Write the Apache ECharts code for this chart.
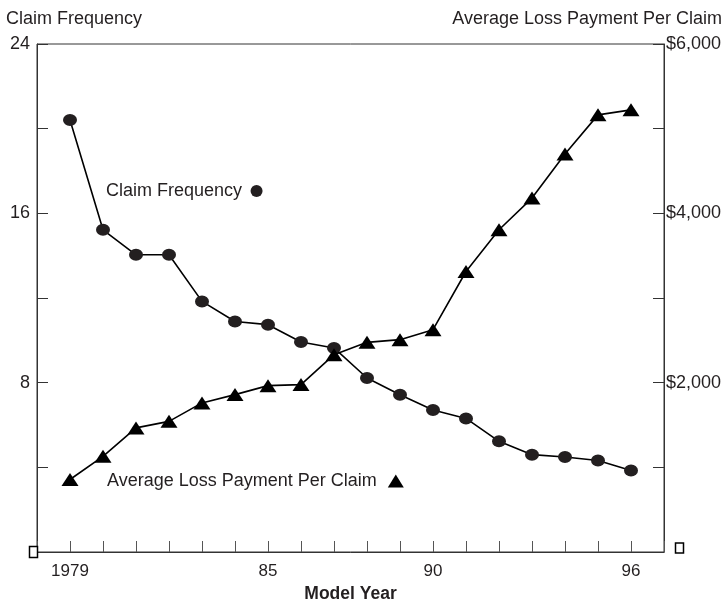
<!DOCTYPE html>
<html><head><meta charset="utf-8">
<script src="https://cdn.jsdelivr.net/npm/echarts@6/dist/echarts.min.js"></script>
<style>html,body{margin:0;padding:0;background:#fff}#c{width:723px;height:599px}</style>
</head><body><div id="c"></div>
<script>
const years = [1979,1980,1981,1982,1983,1984,1985,1986,1987,1988,1989,1990,1991,1992,1993,1994,1995,1996];
const claimFrequency = [20.41,15.22,14.04,14.04,11.84,10.89,10.74,9.92,9.64,8.22,7.43,6.71,6.31,5.23,4.60,4.49,4.32,3.85];
const avgLossPayment = [856,1130,1466,1543,1761,1859,1965,1977,2331,2476,2508,2626,3313,3806,4180,4702,5163,5222];
const xTickYears = [1979,1985,1990,1996];
const xTickLabels = ['1979','85','90','96'];
const leftTickValues = [8,16,24];
const rightTickValues = [2000,4000,6000];
const seriesNames = ['Claim Frequency','Average Loss Payment Per Claim'];

const FONT = "'Liberation Sans', Arial, Helvetica, sans-serif";
const INK = '#231f20';

const chart = echarts.init(document.getElementById('c'), null, {renderer:'canvas'});
chart.setOption({
  animation:false,
  backgroundColor:'#fff',
  textStyle:{fontFamily:FONT},
  title:[
    {text:'Claim Frequency', left:6, top:10, padding:0,
     textStyle:{fontSize:18, fontWeight:'normal', color:INK, fontFamily:FONT}},
    {text:'Average Loss Payment Per Claim', right:1, top:10, padding:0,
     textStyle:{fontSize:18, fontWeight:'normal', color:INK, fontFamily:FONT}}
  ],
  grid:{left:37, right:59, top:44, bottom:47, containLabel:false, outerBoundsMode:'none',
        show:true, borderColor:'#333', borderWidth:1, backgroundColor:'transparent'},
  legend:[
    {data:[{name:seriesNames[0], icon:'circle'}], left:106, top:182, align:'right', padding:0,
     itemWidth:13, itemHeight:12, selectedMode:false,
     textStyle:{fontSize:18, color:INK, fontFamily:FONT, padding:[0,3,0,0]}},
    {data:[{name:seriesNames[1], icon:'triangle'}], left:107, top:472, align:'right', padding:0,
     itemWidth:16, itemHeight:13, selectedMode:false,
     textStyle:{fontSize:18, color:INK, fontFamily:FONT, padding:[0,6,0,0]}}
  ],
  xAxis:{
    type:'value', min:1978, max:1997, interval:1,
    name:'Model Year', nameLocation:'middle', nameGap:28,
    nameTextStyle:{fontSize:17.5, fontWeight:'bold', color:INK, fontFamily:FONT},
    axisLine:{lineStyle:{color:'#333', width:1}},
    axisTick:{inside:true, length:11, lineStyle:{color:'#555'}},
    splitLine:{show:false},
    axisLabel:{margin:11, fontSize:17, color:INK, fontFamily:FONT, showMinLabel:true, showMaxLabel:true,
      formatter:function(v){const i = xTickYears.indexOf(Math.round(v)); return (i>=0 && Math.abs(v-Math.round(v))<1e-6) ? xTickLabels[i] : '';}}
  },
  yAxis:[
    {type:'value', min:0, max:24, interval:4, position:'left',
     axisLine:{show:true, lineStyle:{color:'#333', width:1}},
     axisTick:{show:true, inside:true, length:11, lineStyle:{color:'#333'}},
     splitLine:{show:false},
     axisLabel:{margin:7, fontSize:18, color:INK, fontFamily:FONT,
       formatter:function(v){return leftTickValues.indexOf(v)>=0 ? String(v) : '';}}},
    {type:'value', min:0, max:6000, interval:1000, position:'right',
     axisLine:{show:true, lineStyle:{color:'#333', width:1}},
     axisTick:{show:true, inside:true, length:11, lineStyle:{color:'#333'}},
     splitLine:{show:false},
     axisLabel:{margin:2, fontSize:18, color:INK, fontFamily:FONT,
       formatter:function(v){return rightTickValues.indexOf(v)>=0 ? '$' + v.toLocaleString('en-US') : '';}}}
  ],
  series:[
    {name:seriesNames[0], type:'line', yAxisIndex:0,
     data:years.map((y,i)=>[y, claimFrequency[i]]),
     symbol:'circle', symbolSize:[14,12], showAllSymbol:true,
     lineStyle:{color:'#000', width:1.6}, itemStyle:{color:INK},
     emphasis:{disabled:true}, z:2},
    {name:seriesNames[1], type:'line', yAxisIndex:1,
     data:years.map((y,i)=>[y, avgLossPayment[i]]),
     symbol:'triangle', symbolSize:[17,13], showAllSymbol:true,
     lineStyle:{color:'#000', width:1.6}, itemStyle:{color:'#000'},
     emphasis:{disabled:true}, z:3}
  ],
  graphic:[
    {type:'rect', shape:{x:29.5, y:546.5, width:8, height:11}, style:{fill:'#fff', stroke:'#000', lineWidth:1.5}, z:100},
    {type:'rect', shape:{x:675.5, y:543, width:8, height:10}, style:{fill:'#fff', stroke:'#000', lineWidth:1.5}, z:100}
  ]
});
</script>
</body></html>
